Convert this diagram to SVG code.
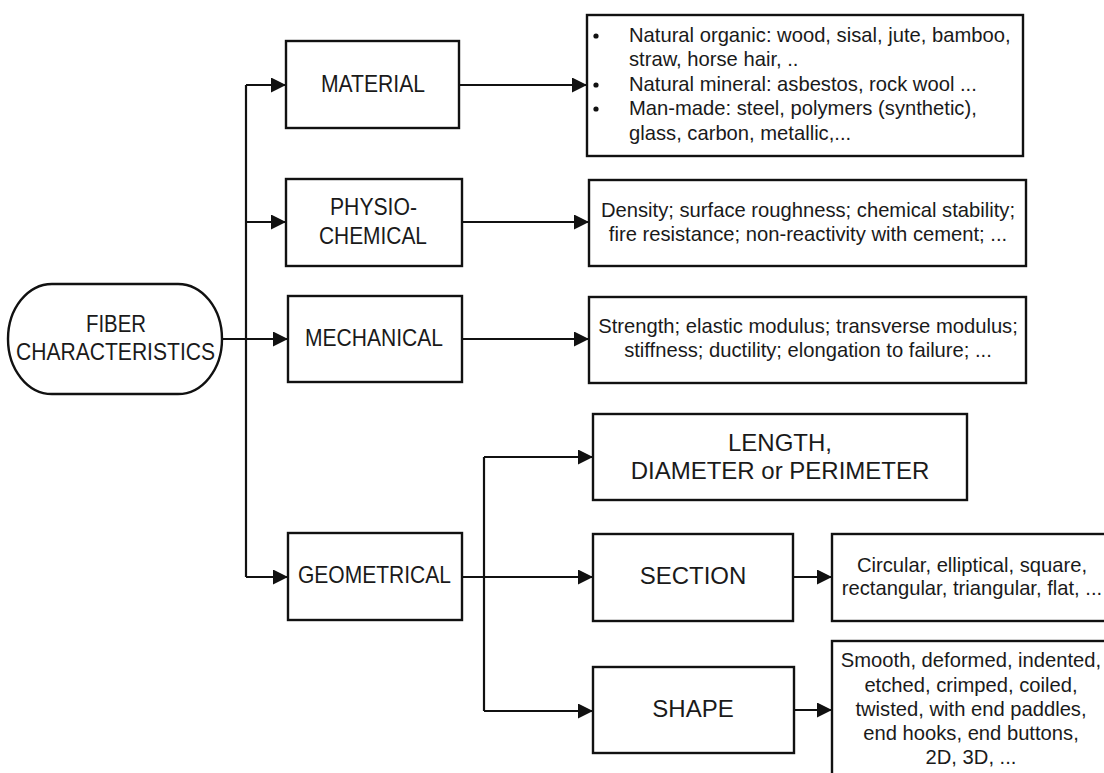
<svg xmlns="http://www.w3.org/2000/svg" width="1104" height="773" viewBox="0 0 1104 773">
<style>
.box{fill:#fff;stroke:#111;stroke-width:2.4}
.t{font-family:"Liberation Sans",Arial,sans-serif;font-size:24px;fill:#1a1a1a;text-anchor:middle}
.d{font-family:"Liberation Sans",Arial,sans-serif;font-size:20.2px;fill:#1a1a1a;text-anchor:middle}
.dl{font-family:"Liberation Sans",Arial,sans-serif;font-size:20.2px;fill:#1a1a1a}
.c{fill:none;stroke:#111;stroke-width:2.2}
</style>
<defs>
<marker id="ah" markerUnits="userSpaceOnUse" markerWidth="15" markerHeight="15" refX="15" refY="7.5" orient="auto">
<path d="M0,0 L15,7.5 L0,15 z" fill="#111"/>
</marker>
</defs>
<rect width="1104" height="773" fill="#fff"/>
<g id="connectors">
<path class="c" d="M222,339 H288" marker-end="url(#ah)"/>
<path class="c" d="M246,85 V577"/>
<path class="c" d="M246,85 H286" marker-end="url(#ah)"/>
<path class="c" d="M246,222 H286" marker-end="url(#ah)"/>
<path class="c" d="M246,577 H288" marker-end="url(#ah)"/>
<path class="c" d="M459,85 H587" marker-end="url(#ah)"/>
<path class="c" d="M462,222 H589" marker-end="url(#ah)"/>
<path class="c" d="M462,339 H589" marker-end="url(#ah)"/>
<path class="c" d="M462,577 H593" marker-end="url(#ah)"/>
<path class="c" d="M484,457 V711"/>
<path class="c" d="M484,457 H593" marker-end="url(#ah)"/>
<path class="c" d="M484,711 H593" marker-end="url(#ah)"/>
<path class="c" d="M793,577 H832" marker-end="url(#ah)"/>
<path class="c" d="M794,710 H832" marker-end="url(#ah)"/>
</g>
<g id="fiber">
<rect class="box" x="8" y="284" width="214" height="110" rx="44" ry="55"/>
<text class="t" x="116" y="332" textLength="60" lengthAdjust="spacingAndGlyphs">FIBER</text>
<text class="t" x="115.5" y="360" textLength="199" lengthAdjust="spacingAndGlyphs">CHARACTERISTICS</text>
</g>
<g id="material">
<rect class="box" x="286" y="41" width="173" height="87"/>
<text class="t" x="373" y="92" textLength="104" lengthAdjust="spacingAndGlyphs">MATERIAL</text>
</g>
<g id="physio">
<rect class="box" x="286" y="179" width="176" height="87"/>
<text class="t" x="373.5" y="215" textLength="87" lengthAdjust="spacingAndGlyphs">PHYSIO-</text>
<text class="t" x="373" y="244" textLength="108" lengthAdjust="spacingAndGlyphs">CHEMICAL</text>
</g>
<g id="mechanical">
<rect class="box" x="288" y="296" width="174" height="86"/>
<text class="t" x="374" y="346" textLength="138" lengthAdjust="spacingAndGlyphs">MECHANICAL</text>
</g>
<g id="geometrical">
<rect class="box" x="288" y="533" width="174" height="87"/>
<text class="t" x="374.5" y="583" textLength="153" lengthAdjust="spacingAndGlyphs">GEOMETRICAL</text>
</g>
<g id="material-desc">
<rect class="box" x="587" y="15" width="436" height="141"/>
<circle cx="596" cy="36" r="2.6" fill="#111"/>
<circle cx="596" cy="85" r="2.6" fill="#111"/>
<circle cx="596" cy="109" r="2.6" fill="#111"/>
<text class="dl" x="629" y="42">Natural organic: wood, sisal, jute, bamboo,</text>
<text class="dl" x="629" y="66">straw, horse hair, ..</text>
<text class="dl" x="629" y="91">Natural mineral: asbestos, rock wool ...</text>
<text class="dl" x="629" y="115">Man-made: steel, polymers (synthetic),</text>
<text class="dl" x="629" y="140">glass, carbon, metallic,...</text>
</g>
<g id="physio-desc">
<rect class="box" x="589" y="180" width="437" height="86"/>
<text class="d" x="808" y="217">Density; surface roughness; chemical stability;</text>
<text class="d" x="808" y="241">fire resistance; non-reactivity with cement;  ...</text>
</g>
<g id="mechanical-desc">
<rect class="box" x="589" y="297" width="437" height="86"/>
<text class="d" x="808" y="333">Strength; elastic modulus; transverse modulus;</text>
<text class="d" x="808" y="357">stiffness; ductility; elongation to failure; ...</text>
</g>
<g id="length">
<rect class="box" x="593" y="414" width="374" height="86"/>
<text class="t" x="780" y="451">LENGTH,</text>
<text class="t" x="780" y="479">DIAMETER or PERIMETER</text>
</g>
<g id="section">
<rect class="box" x="593" y="534" width="200" height="87"/>
<text class="t" x="693" y="584">SECTION</text>
</g>
<g id="shape">
<rect class="box" x="593" y="667" width="201" height="86"/>
<text class="t" x="693" y="717">SHAPE</text>
</g>
<g id="section-desc">
<rect class="box" x="832" y="534" width="280" height="87"/>
<text class="d" x="972" y="572">Circular, elliptical, square,</text>
<text class="d" x="972" y="595">rectangular, triangular, flat, ...</text>
</g>
<g id="shape-desc">
<rect class="box" x="832" y="641" width="280" height="140"/>
<text class="d" x="971" y="667">Smooth, deformed, indented,</text>
<text class="d" x="971" y="692">etched, crimped, coiled,</text>
<text class="d" x="971" y="716">twisted, with end paddles,</text>
<text class="d" x="971" y="740">end hooks, end buttons,</text>
<text class="d" x="971" y="764">2D, 3D, ...</text>
</g>
</svg>
